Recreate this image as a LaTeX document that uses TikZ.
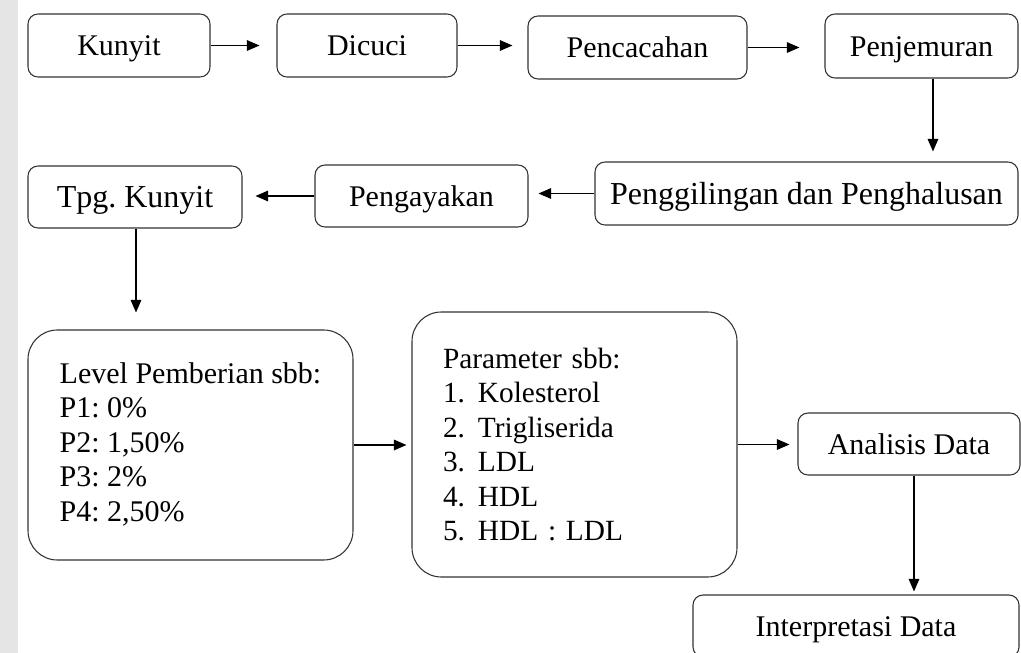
\documentclass[tikz,border=0pt]{standalone}
\usepackage{fontspec}
\setmainfont{Liberation Serif}
\usetikzlibrary{arrows.meta}
\begin{document}
\frenchspacing
\begin{tikzpicture}[x=0.75pt,y=-0.75pt,
  box/.style={draw=black!80,line width=0.8pt,rounded corners=7.5pt,fill=white,
    inner sep=0pt,align=center,text height=15pt,text depth=0pt,
    font=\fontsize{22.5}{26}\selectfont\frenchspacing},
  bigbox/.style={draw=black!80,line width=0.8pt,rounded corners=22pt,fill=white,
    inner sep=0pt,align=left,font=\fontsize{22.5}{25.9}\selectfont\frenchspacing},
  arr/.style={line width=0.9pt,-{Triangle[length=9.5pt,width=8pt]}}]
\useasboundingbox (0,0) rectangle (1021,653);
\clip (0,0) rectangle (1021,653);
\fill[black!10] (0,0) rectangle (18,653);
% row 1
\node[box,minimum width=136.5pt,minimum height=47.25pt] (kunyit) at (119,45.5) {Kunyit};
\node[box,minimum width=135pt,minimum height=47.25pt] (dicuci) at (367,45.5) {Dicuci};
\node[box,minimum width=164.25pt,minimum height=47.25pt] (pencac) at (637.5,47.5) {Pencacahan};
\node[box,minimum width=144.75pt,minimum height=48pt] (penjem) at (921.5,46) {Penjemuran};
% row 2
\node[box,minimum width=317.25pt,minimum height=47.25pt,text height=16pt,font=\fontsize{24}{28}\selectfont] (pengg) at (806.5,193.5) {Penggilingan dan Penghalusan};
\node[box,minimum width=159.75pt,minimum height=46.5pt] (pengay) at (421.5,196) {Pengayakan};
\node[box,minimum width=160.5pt,minimum height=46.5pt,text height=16pt,font=\fontsize{24}{28}\selectfont\frenchspacing] (tpg) at (135,197) {Tpg. Kunyit};
% row 3
\node[bigbox,minimum width=243.75pt,minimum height=172.5pt] (level) at (190.5,445)
  {Level Pemberian sbb:\\P1: 0\%\\P2: 1,50\%\\P3: 2\%\\P4: 2,50\%\vphantom{g}};
\node[bigbox,minimum width=243.75pt,minimum height=198.75pt,inner xsep=23.25pt,text width=197.25pt,font=\fontsize{22}{25.9}\selectfont\frenchspacing] (param) at (574.5,444.5)
  {Parameter sbb:\\
   \makebox[26.25pt][l]{1.}Kolesterol\\
   \makebox[26.25pt][l]{2.}Trigliserida\\
   \makebox[26.25pt][l]{3.}LDL\\
   \makebox[26.25pt][l]{4.}HDL\\
   \makebox[26.25pt][l]{5.}HDL : LDL};
\node[box,minimum width=166.5pt,minimum height=46.5pt] (anal) at (909,444) {Analisis Data};
\node[box,minimum width=244.5pt,minimum height=46.5pt] (interp) at (856,626) {Interpretasi Data};
% connectors
\draw[arr,shorten >=12.75pt] (kunyit.east) -- (kunyit.east -| dicuci.west);
\draw[arr,shorten >=11.25pt] (dicuci.east) -- (dicuci.east -| pencac.west);
\draw[arr,shorten >=18.75pt] (pencac.east) -- (pencac.east -| penjem.west);
\draw[arr,shorten >=7.5pt] ([xshift=8.6pt]penjem.south) -- ([xshift=8.6pt]penjem.south |- pengg.north);
\draw[arr,shorten >=7.5pt] (pengg.west) -- (pengg.west -| pengay.east);
\draw[arr,shorten >=9.75pt] (pengay.west) -- (pengay.west -| tpg.east);
\draw[arr,shorten >=12.75pt] ([xshift=0.75pt]tpg.south) -- ([xshift=0.75pt]tpg.south |- level.north);
\draw[arr,shorten >=3.75pt] (level.east) -- (level.east -| param.west);
\draw[arr,shorten >=6pt] (param.east) -- (param.east -| anal.west);
\draw[arr,shorten >=2.25pt] ([xshift=3.75pt]anal.south) -- ([xshift=3.75pt]anal.south |- interp.north);
\end{tikzpicture}
\end{document}
